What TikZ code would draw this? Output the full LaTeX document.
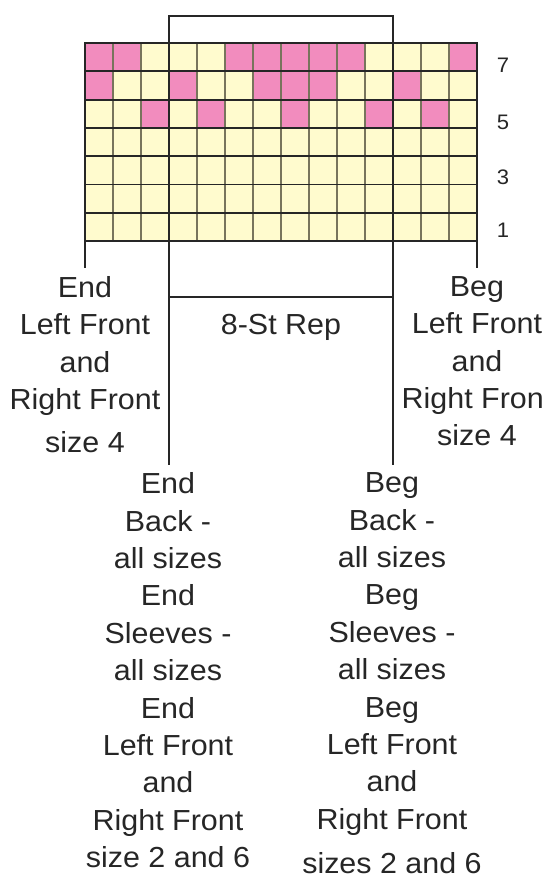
\documentclass[tikz,border=0pt]{standalone}
\usepackage{fontspec}
\setmainfont[FakeStretch=1.05]{Liberation Sans}
\usepackage{tikz}
\usetikzlibrary{positioning}

\definecolor{stitchpink}{RGB}{242,140,190}
\definecolor{stitchcream}{RGB}{255,251,206}
\definecolor{gridolive}{RGB}{120,116,92}
\definecolor{inkdark}{RGB}{38,38,38}

\begin{document}
\begin{tikzpicture}[x=1pt, y=-1pt,
  thinrule/.style={line width=1.3pt, draw=gridolive},
  darkrule/.style={line width=1.8pt, draw=inkdark},
  lbl/.style={font=\fontsize{29}{37.4}\selectfont, text=inkdark,
    align=center, inner sep=0pt, anchor=north},
  rownum/.style={font=\fontsize{21}{21}\selectfont, text=inkdark,
    inner sep=0pt, anchor=base}]

\useasboundingbox (0,0) rectangle (543,875);

% ============================================================
% Chart: 14 sts x 7 rows, cell 28 x 28.3
% ============================================================
\def\cw{28}
\def\ch{28.3}
\coordinate (gridTL) at (85,43);
\coordinate (gridBR) at (477,241.1);

\fill[stitchcream] (gridTL) rectangle (gridBR);

% pink stitches (row 7 on top)
\foreach \r/\cols in {0/{1,2,6,7,8,9,10,14},
                      1/{1,4,7,8,9,12},
                      2/{3,5,8,11,13}}
  \foreach \c in \cols
    \fill[stitchpink] (85+\c*\cw-\cw, 43+\r*\ch) rectangle ++(\cw,\ch);

% grid lines
\foreach \c in {1,...,13}
  \draw[thinrule] (85+\c*\cw, 43) -- (85+\c*\cw, 241.1);
\foreach \r in {1,...,6}
  \draw[darkrule] (85, 43+\r*\ch) -- (477, 43+\r*\ch);
\draw[darkrule] (gridTL) rectangle (gridBR);

% ============================================================
% Repeat bracket (sts 4 to 11)
% ============================================================
\coordinate (repTL) at (169,43);
\coordinate (repTR) at (393,43);
\coordinate (repBL) at (169,241.1);
\coordinate (repBR) at (393,241.1);
\coordinate (repTopL) at (169,16);
\coordinate (repTopR) at (393,16);
\coordinate (barL) at (169,297);
\coordinate (barR) at (393,297);
\coordinate (legL) at (169,465);
\coordinate (legR) at (393,465);

\draw[darkrule] (repTL) -- (repTopL) -- (repTopR) -- (repTR);
\draw[darkrule] (repTL) -- (repBL);
\draw[darkrule] (repTR) -- (repBR);
\draw[darkrule] (repBL) -- (legL);
\draw[darkrule] (repBR) -- (legR);
\draw[darkrule] (barL) -- (barR);

% outer ticks
\coordinate (gridBL) at (85,241.1);
\coordinate (tickL) at (85,268);
\coordinate (tickR) at (477,268);
\draw[darkrule] (gridBL) -- (tickL);
\draw[darkrule] (gridBR) -- (tickR);

% ============================================================
% Row numbers
% ============================================================
\foreach \n/\yb in {7/73,5/129,3/184,1/237}
  \node[rownum] (row\n) at (503,\yb) {\n};

% ============================================================
% Labels
% ============================================================
\node[lbl] (endfront) at (85,276.2)
  {End\\Left Front\\and\\Right Front\\[5.5pt]size 4};
\node[lbl] (begfront) at (477,276.2)
  {Beg\\Left Front\\and\\Right Front\\size 4};
\node[lbl] (rep) at (281,314.2) {8-St Rep};

\node[lbl] (endall) at (168,472.5)
  {End\\Back -\\all sizes\\End\\Sleeves -\\all sizes\\End\\Left Front\\and\\Right Front\\size 2 and 6};
\node[lbl] (begall) at (392,472.5)
  {Beg\\Back -\\all sizes\\Beg\\Sleeves -\\all sizes\\Beg\\Left Front\\and\\Right Front\\[7pt]sizes 2 and 6};

\end{tikzpicture}
\end{document}
